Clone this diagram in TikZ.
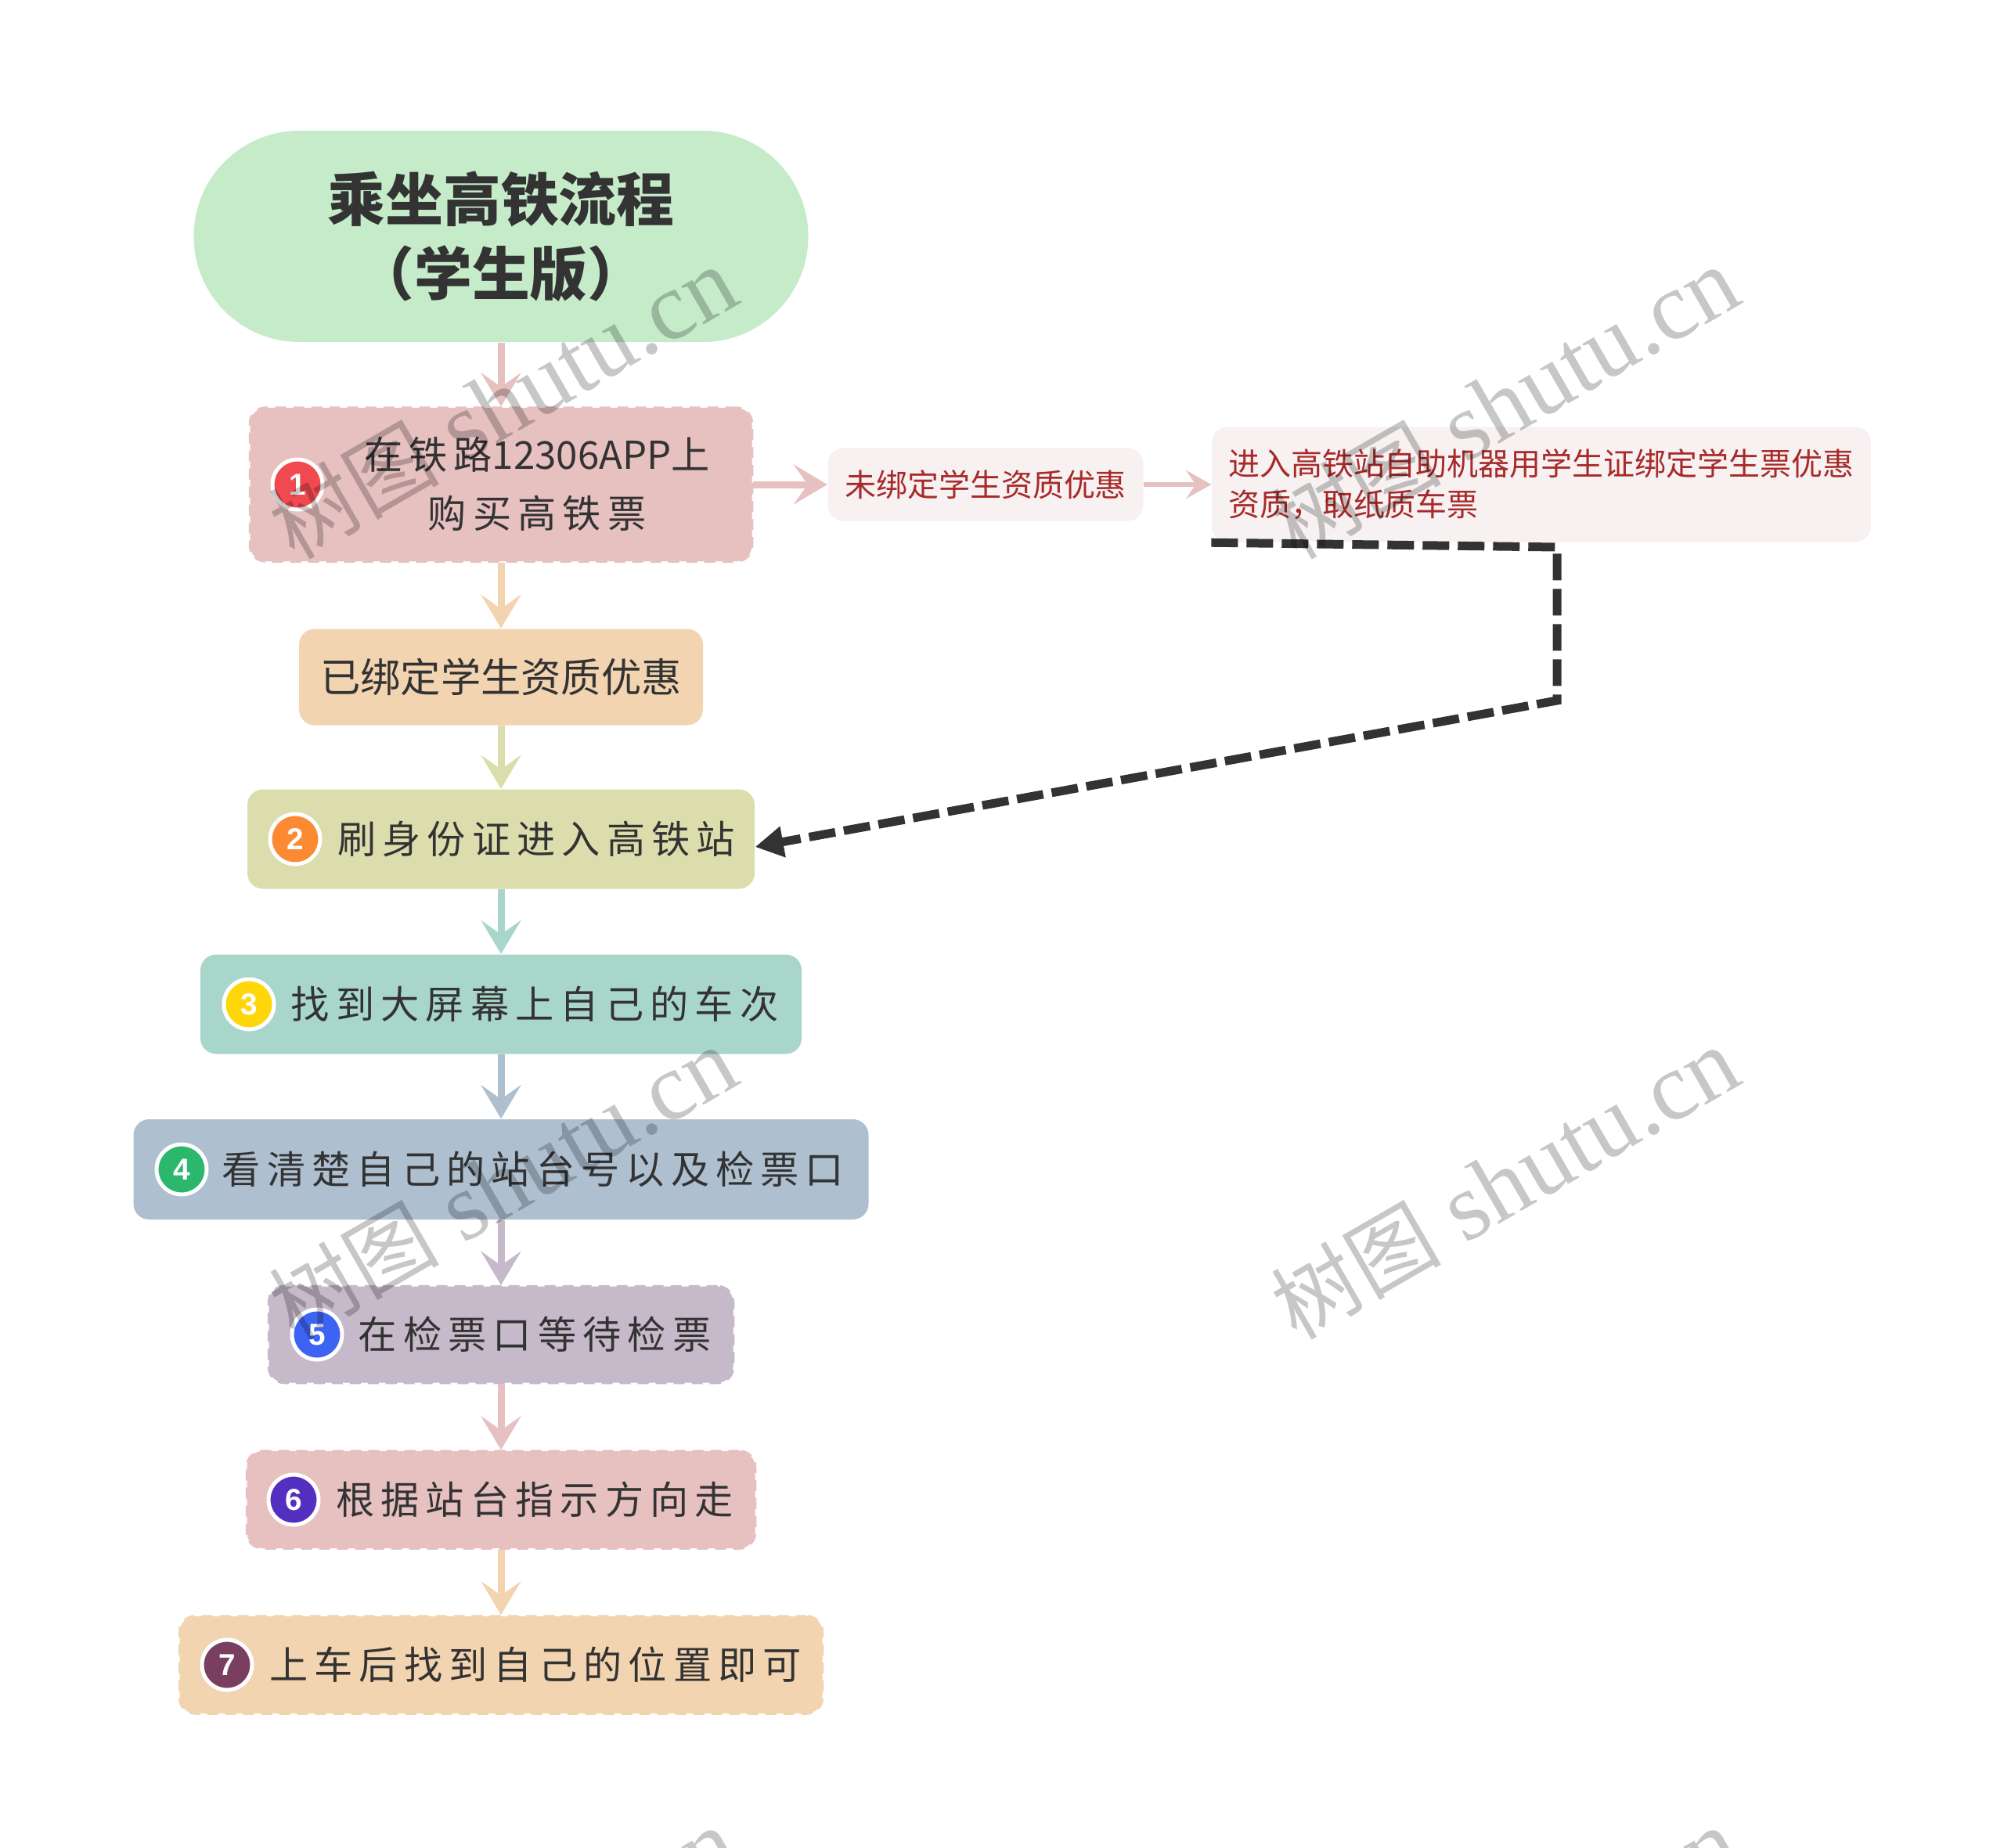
\documentclass[tikz,border=0pt]{standalone}
\usepackage{fontspec}
\setmainfont{Noto Sans CJK SC}
\newfontfamily\stepfont[LetterSpace=16.5]{Noto Sans CJK SC}
\newfontfamily\plainfont{Noto Sans CJK SC}
\newfontfamily\titlefont{Noto Sans CJK SC Black}
\newfontfamily\badgefont{Liberation Sans}
\newfontfamily\markfont{Liberation Serif}
\usetikzlibrary{arrows.meta}
\definecolor{titlegreen}{HTML}{C5EBC9}
\definecolor{rosefill}{HTML}{E7C0C0}
\definecolor{sandfill}{HTML}{F2D4B1}
\definecolor{olivefill}{HTML}{DBDDAC}
\definecolor{tealfill}{HTML}{A9D6CA}
\definecolor{bluefill}{HTML}{AEBFD0}
\definecolor{mauvefill}{HTML}{C6B9CA}
\definecolor{notefill}{HTML}{F7F1F1}
\definecolor{notered}{HTML}{A82A2A}
\definecolor{inkgray}{HTML}{333333}
\definecolor{badgered}{HTML}{F04A50}
\definecolor{badgeorange}{HTML}{FB8A33}
\definecolor{badgeyellow}{HTML}{FFD60A}
\definecolor{badgegreen}{HTML}{2BB86C}
\definecolor{badgeblue}{HTML}{3D63F2}
\definecolor{badgeviolet}{HTML}{5530C0}
\definecolor{badgeplum}{HTML}{7A3F60}
\tikzset{
  stepbox/.style={rounded corners=0.2cm, text=inkgray, inner sep=0pt},
  edgedbox/.style={stepbox, draw=#1, fill=#1, line width=0.035cm, dash pattern=on 0.14cm off 0.09cm},
  steptext/.style={text=inkgray, align=center, font=\stepfont\fontsize{14}{21.3}\selectfont},
  badge/.style={circle, draw=white, line width=0.05cm, fill=#1, minimum size=0.64cm, inner sep=0pt, text=white, font=\badgefont\bfseries\fontsize{11}{11}\selectfont},
  notebox/.style={rounded corners=0.2cm, fill=notefill, text=notered, inner sep=0pt, font=\fontsize{11.38}{14.8}\selectfont},
  flowline/.style={->, line width=0.09cm},
  noteline/.style={-{Stealth[length=0.32cm,width=0.36cm,inset=0.12cm]}, line width=0.06cm, draw=rosefill},
  watermark/.style={rotate=30, text=black, opacity=0.22, inner sep=0pt, font=\markfont\fontsize{35}{35}\selectfont}
}
\newcommand{\marktext}{{\plainfont\fontsize{31}{35}\selectfont 树图} shutu.cn}
\begin{document}
\begin{tikzpicture}[>={Stealth[length=0.43cm,width=0.51cm,inset=0.18cm]}]
\useasboundingbox (0,0) rectangle (25.60,-23.61);
\clip (0,0) rectangle (25.60,-23.61);
\fill[white] (0,0) rectangle (25.60,-23.61);
% boxes down the left side
\node[rounded corners=1.35cm, fill=titlegreen, text=inkgray, minimum width=7.85cm, minimum height=2.70cm, inner sep=0pt, align=center, font=\titlefont\fontsize{21}{27}\selectfont] (title) at (6.40,-3.02) {乘坐高铁流程\\（学生版）};
\node[edgedbox=rosefill, minimum width=6.41cm, minimum height=1.96cm] (buyticket) at (6.40,-6.19) {};
\node[stepbox, fill=sandfill, minimum width=5.16cm, minimum height=1.23cm, font=\fontsize{14.6}{18}\selectfont] (bound) at (6.40,-8.65) {已绑定学生资质优惠};
\node[stepbox, fill=olivefill, minimum width=6.48cm, minimum height=1.27cm] (enterstation) at (6.40,-10.72) {};
\node[stepbox, fill=tealfill, minimum width=7.68cm, minimum height=1.27cm] (findtrain) at (6.40,-12.83) {};
\node[stepbox, fill=bluefill, minimum width=9.39cm, minimum height=1.28cm] (checkgate) at (6.40,-14.94) {};
\node[edgedbox=mauvefill, minimum width=5.93cm, minimum height=1.23cm] (waitcheck) at (6.40,-17.05) {};
\node[edgedbox=rosefill, minimum width=6.49cm, minimum height=1.24cm] (followsign) at (6.40,-19.16) {};
\node[edgedbox=sandfill, minimum width=8.21cm, minimum height=1.24cm] (findseat) at (6.40,-21.27) {};
% step texts
\node[steptext] (buytext) at (6.86,-6.18) {在铁路{\plainfont 12306APP}上\\购买高铁票};
\node[steptext] (entertext) at (6.85,-10.72) {刷身份证进入高铁站};
\node[steptext] (findtext) at (6.83,-12.83) {找到大屏幕上自己的车次};
\node[steptext] (checktext) at (6.81,-14.94) {看清楚自己的站台号以及检票口};
\node[steptext] (waittext) at (6.83,-17.05) {在检票口等待检票};
\node[steptext] (followtext) at (6.83,-19.16) {根据站台指示方向走};
\node[steptext] (seattext) at (6.84,-21.27) {上车后找到自己的位置即可};
% numbered badges
\node[badge=badgered] (badgeone) at (3.80,-6.19) {1};
\node[badge=badgeorange] (badgetwo) at (3.77,-10.72) {2};
\node[badge=badgeyellow] (badgethree) at (3.18,-12.83) {3};
\node[badge=badgegreen] (badgefour) at (2.32,-14.94) {4};
\node[badge=badgeblue] (badgefive) at (4.05,-17.05) {5};
\node[badge=badgeviolet] (badgesix) at (3.75,-19.16) {6};
\node[badge=badgeplum] (badgeseven) at (2.90,-21.27) {7};
% note boxes
\node[notebox, minimum width=4.03cm, minimum height=0.93cm] (unbound) at (12.59,-6.19) {未绑定学生资质优惠};
\node[notebox, minimum height=1.47cm, text width=8.00cm, inner xsep=0.21cm, align=left] (bindcard) at (19.69,-6.19) {进入高铁站自助机器用学生证绑定学生票优惠\\资质，取纸质车票};
\coordinate (cornerone) at (19.89,-6.99);
\coordinate (cornertwo) at (19.89,-8.95);
% connectors
\draw[flowline, draw=rosefill] (title) -- (buyticket);
\draw[flowline, draw=sandfill] (buyticket) -- (bound);
\draw[flowline, draw=olivefill] (bound) -- (enterstation);
\draw[flowline, draw=tealfill] (enterstation) -- (findtrain);
\draw[flowline, draw=bluefill] (findtrain) -- (checkgate);
\draw[flowline, draw=mauvefill] (checkgate) -- (waitcheck);
\draw[flowline, draw=rosefill] (waitcheck) -- (followsign);
\draw[flowline, draw=sandfill] (followsign) -- (findseat);
\draw[flowline, draw=rosefill] (buyticket) -- (unbound);
\draw[noteline] (unbound) -- (bindcard);
\draw[-{Stealth[length=0.36cm,width=0.38cm,inset=0pt]}, draw=inkgray, line width=0.11cm, dash pattern=on 0.34cm off 0.11cm] (bindcard.south west) -- (cornerone) -- (cornertwo) -- ([yshift=-0.1cm]enterstation.east);
% watermark
\node[watermark] (markone) at (6.42,-5.15) {\marktext};
\node[watermark] (marktwo) at (19.22,-5.15) {\marktext};
\node[watermark] (markthree) at (6.42,-15.12) {\marktext};
\node[watermark] (markfour) at (19.22,-15.12) {\marktext};
\node[watermark] (markfive) at (6.42,-25.09) {\marktext};
\node[watermark] (marksix) at (19.22,-25.09) {\marktext};
\end{tikzpicture}
\end{document}
